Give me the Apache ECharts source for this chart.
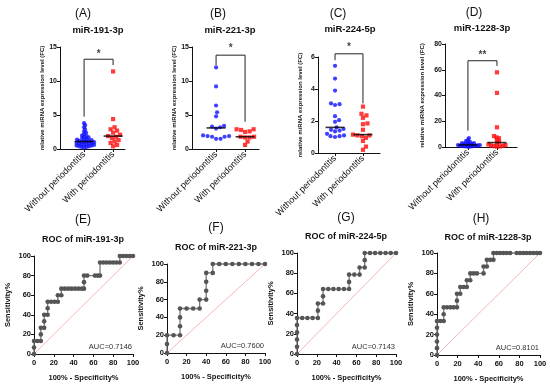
<!DOCTYPE html>
<html><head><meta charset="utf-8">
<script src="https://cdn.jsdelivr.net/npm/echarts@6/dist/echarts.min.js"></script>
<style>html,body{margin:0;padding:0;background:#fff}#c{width:550px;height:387px}</style>
</head><body><div id="c"></div>
<script>
// ---------- DATA ----------
const CATEGORIES = ['Without periodontitis', 'With periodontitis'];
const LETTERS_TOP = ['(A)', '(B)', '(C)', '(D)'];
const LETTERS_BOT = ['(E)', '(F)', '(G)', '(H)'];
const MIRNAS = ['miR-191-3p', 'miR-221-3p', 'miR-224-5p', 'miR-1228-3p'];
const ROC_TITLES = ['ROC of miR-191-3p', 'ROC of miR-221-3p', 'ROC of miR-224-5p', 'ROC of miR-1228-3p'];
const AUC_LABELS = ['AUC=0.7146', 'AUC=0.7600', 'AUC=0.7143', 'AUC=0.8101'];
const Y_NAME = 'relative miRNA expression level (FC)';
const ROC_X_NAME = '100% - Specificity%';
const ROC_Y_NAME = 'Sensitivity%';

const A_without = [3.8, 3.5, 3.2, 2.9, 2.6, 2.4, 2.2, 2.0, 1.9, 1.8, 1.7, 1.6, 1.5, 1.4, 1.4, 1.3, 1.2, 1.2, 1.1, 1.1, 1.0, 1.0, 0.9, 0.9, 0.8, 0.8, 0.7, 0.7, 0.6, 0.6, 0.5, 0.5, 0.4, 0.4, 0.3, 0.3, 0.2];
const A_with = [11.4, 4.4, 3.2, 2.9, 2.7, 2.4, 2.1, 1.9, 1.8, 1.6, 1.3, 1.1, 0.9, 0.6, 0.4];
const B_without = [12.0, 9.2, 6.4, 5.4, 4.8, 3.4, 3.3, 3.2, 3.0, 2.0, 1.9, 1.9, 1.8, 1.8, 1.5, 1.5];
const B_with = [2.9, 2.9, 2.8, 2.6, 2.5, 1.8, 1.8, 1.7, 1.7, 1.1, 0.6];
const C_without = [5.45, 4.65, 3.9, 3.1, 3.05, 3.0, 2.3, 2.05, 1.95, 1.6, 1.5, 1.45, 1.4, 1.35, 1.2, 1.1, 1.05, 1.05, 1.0];
const C_with = [2.9, 2.45, 2.35, 2.2, 1.85, 1.8, 1.45, 1.15, 1.1, 1.1, 1.05, 0.95, 0.75, 0.4, 0.2];
const D_without = [7.0, 5.5, 4.5, 4.0, 3.5, 3.0, 3.0, 2.5, 2.5, 2.0, 2.0, 1.8, 1.5, 1.5, 1.2, 1.0, 1.0, 0.8, 0.8, 0.6, 0.5, 0.4, 0.3, 0.2];
const D_with = [58, 42, 15.3, 8.5, 7.5, 6.8, 5.4, 4.1, 2.8, 2.0, 1.5, 1.2, 0.9, 0.7, 0.5, 0.3];

const Y_MAX = [15, 15, 6, 80];
const Y_INTERVAL = [5, 5, 2, 20];
// significance bracket: [left bottom, top, right bottom]
const BRACKETS = [[4.75, 13.2, 12.35], [12.35, 13.8, 4.0], [5.8, 6.2, 3.1], [12.7, 67, 63]];
const STARS = ['*', '*', '*', '**'];
const STAR_Y = [14.0, 14.8, 6.6, 71.5];

const ROC_E = [[0,0],[0,6.7],[0,13.3],[3.4,13.3],[6.9,13.3],[6.9,20],[6.9,26.7],[10.3,26.7],[10.3,33.3],[10.3,40],[13.8,40],[13.8,46.7],[13.8,53.3],[17.2,53.3],[20.7,53.3],[24.1,53.3],[24.1,60],[27.6,60],[27.6,66.7],[31,66.7],[34.5,66.7],[37.9,66.7],[41.4,66.7],[44.8,66.7],[48.3,66.7],[50.5,66.7],[50.5,73.3],[50.5,80],[53.8,80],[61.5,80],[64.4,80],[66.7,80],[66.7,93.3],[70,93.3],[73.3,93.3],[76.7,93.3],[80,93.3],[83.3,93.3],[86.7,93.3],[86.7,100],[90,100],[93.3,100],[96.7,100],[100,100]];
const ROC_F = [[0,0],[0,10],[0,20],[6.7,20],[13.3,20],[13.3,30],[13.3,40],[13.3,50],[20,50],[26.7,50],[33.3,50],[33.3,60],[40,60],[40,70],[40,80],[40,90],[46.7,90],[46.7,100],[53.3,100],[60,100],[66.7,100],[73.3,100],[80,100],[86.7,100],[93.3,100],[100,100]];
const ROC_G = [[0,0],[0,7.1],[0,14.3],[0,21.4],[0,28.6],[0,35.7],[5.3,35.7],[10.5,35.7],[15.8,35.7],[21.1,35.7],[21.1,42.9],[21.1,50],[26.3,50],[26.3,57.1],[26.3,64.3],[31.6,64.3],[36.8,64.3],[42.1,64.3],[47.4,64.3],[52.6,64.3],[52.6,71.4],[52.6,78.6],[57.9,78.6],[63.2,78.6],[63.2,85.7],[68.4,85.7],[68.4,92.9],[68.4,100],[73.7,100],[78.9,100],[84.2,100],[89.5,100],[94.7,100],[100,100]];
const ROC_H = [[0,0],[0,6.7],[0,13.3],[0,20],[0,26.7],[0,33.3],[3.2,33.3],[6.5,33.3],[6.5,40],[6.5,46.7],[9.7,46.7],[12.9,46.7],[16.1,46.7],[19.4,46.7],[19.4,53.3],[19.4,60],[22.6,60],[22.6,66.7],[25.8,66.7],[29,66.7],[29,73.3],[32.3,73.3],[32.3,80],[35.5,80],[38.7,80],[45.2,80],[45.2,86.7],[48.4,86.7],[48.4,93.3],[51.6,93.3],[54.8,93.3],[54.8,100],[58.1,100],[61.3,100],[64.5,100],[67.7,100],[71,100],[77.4,100],[80.6,100],[83.9,100],[87.1,100],[90.3,100],[93.5,100],[96.8,100],[100,100]];

// ---------- LAYOUT ----------
const TOP_GROUPS = [[A_without, A_with], [B_without, B_with], [C_without, C_with], [D_without, D_with]];
const ROCS = [ROC_E, ROC_F, ROC_G, ROC_H];
const GT = [
  {left: 60, top: 47, width: 65, height: 102},
  {left: 192, top: 47, width: 67, height: 102},
  {left: 318, top: 57, width: 62, height: 96},
  {left: 445, top: 44, width: 72, height: 103}
];
const XR = [[-0.83, 1.41], [-0.83, 1.48], [-0.61, 1.61], [-0.79, 1.69]];
const SWARM_D = [[2.2, 4.2], [4.2, 4.2], [4.2, 4.2], [2.0, 2.6]];
const GB = [
  {left: 34, top: 256, width: 99, height: 98},
  {left: 167, top: 264, width: 98, height: 89},
  {left: 297, top: 253, width: 99, height: 101},
  {left: 437, top: 253, width: 103, height: 102}
];
const LETTER_POS_TOP = [[83, 14], [218, 14], [338, 14], [474, 13]];
const TITLE_POS_TOP = [[98, 30], [230, 30], [350, 29], [482, 28]];
const LETTER_POS_BOT = [[83, 220], [216, 228], [346, 218], [481, 219]];
const TITLE_POS_BOT = [[83, 240], [216, 248], [346, 237], [488, 238]];
const FONT = '"Liberation Sans", Arial, sans-serif';

function median(a) {
  const s = a.slice().sort((x, y) => x - y);
  const n = s.length;
  return n % 2 ? s[(n - 1) / 2] : (s[n / 2 - 1] + s[n / 2]) / 2;
}
function swarm(vals, pxPerVal, d) {
  const order = vals.map((v, i) => i).sort((a, b) => vals[a] - vals[b]);
  const placed = [], off = [];
  for (const i of order) {
    const y = vals[i] * pxPerVal;
    let best = 0;
    for (let k = 0; k < 400; k++) {
      const dx = k === 0 ? 0 : (k % 2 ? 1 : -1) * Math.ceil(k / 2) * 0.5;
      if (placed.every(p => (p.x - dx) ** 2 + (p.y - y) ** 2 >= d * d)) { best = dx; break; }
    }
    placed.push({x: best, y}); off[i] = best;
  }
  return off;
}

const grid = [], xAxis = [], yAxis = [], series = [], graphic = [];
const tickLabel = {color: '#111', fontSize: 7, fontWeight: 'bold', fontFamily: FONT};
const axLine = {show: true, onZero: false, lineStyle: {color: '#111', width: 1}};

for (let i = 0; i < 4; i++) {
  const g = GT[i];
  grid.push({left: g.left, top: g.top, width: g.width, height: g.height});
  xAxis.push({
    type: 'value', gridIndex: i, min: XR[i][0], max: XR[i][1],
    axisLine: axLine, splitLine: {show: false},
    axisTick: {show: true, length: 3, customValues: [0, 1], lineStyle: {color: '#111'}},
    axisLabel: {show: true, customValues: [0, 1], formatter: v => CATEGORIES[Math.round(v)],
      rotate: 45, margin: 4, fontSize: 9, color: '#111', fontFamily: FONT}
  });
  yAxis.push({
    type: 'value', gridIndex: i, min: 0, max: Y_MAX[i], interval: Y_INTERVAL[i],
    axisLine: axLine, splitLine: {show: false},
    axisTick: {show: true, length: 3, lineStyle: {color: '#111'}},
    axisLabel: Object.assign({margin: 3}, tickLabel),
    name: Y_NAME, nameLocation: 'middle', nameRotate: 90, nameGap: i === 3 ? 20 : 15,
    nameTextStyle: {fontSize: 6, fontWeight: 'bold', color: '#111', fontFamily: FONT}
  });
  const ppv = g.height / Y_MAX[i];
  const colors = ['#1010ff', '#ff0a0a'];
  const symbols = ['circle', 'rect'];
  TOP_GROUPS[i].forEach((vals, c) => {
    const off = swarm(vals, ppv, SWARM_D[i][c]);
    series.push({
      type: 'scatter', xAxisIndex: i, yAxisIndex: i, symbol: symbols[c], symbolSize: 4.2,
      itemStyle: {color: colors[c]}, silent: true, z: 3,
      data: vals.map((v, k) => ({value: [c, v], symbolOffset: [off[k], 0]}))
    });
  });
  series.push({
    type: 'scatter', xAxisIndex: i, yAxisIndex: i, symbol: 'rect', symbolSize: [19, 1.6],
    itemStyle: {color: '#000'}, z: 5, silent: true,
    data: TOP_GROUPS[i].map((vals, c) => [c, median(vals)])
  });
  const b = BRACKETS[i];
  series.push({
    type: 'line', xAxisIndex: i, yAxisIndex: i, symbol: 'none', clip: false, silent: true,
    lineStyle: {color: '#222', width: 1},
    data: [[0, b[0]], [0, b[1]], [1, b[1]], [1, b[2]]]
  });
  series.push({
    type: 'scatter', xAxisIndex: i, yAxisIndex: i, symbolSize: 1, clip: false, silent: true,
    itemStyle: {color: 'rgba(0,0,0,0)'},
    label: {show: true, position: 'inside', formatter: STARS[i], fontSize: 10, fontWeight: 'bold', color: '#111', fontFamily: FONT},
    data: [[0.5, STAR_Y[i]]]
  });
  graphic.push({type: 'text', x: LETTER_POS_TOP[i][0], y: LETTER_POS_TOP[i][1],
    style: {text: LETTERS_TOP[i], font: '12px ' + FONT, fill: '#111', textAlign: 'center', textVerticalAlign: 'middle'}});
  graphic.push({type: 'text', x: TITLE_POS_TOP[i][0], y: TITLE_POS_TOP[i][1],
    style: {text: MIRNAS[i], font: 'bold 9.5px ' + FONT, fill: '#111', textAlign: 'center', textVerticalAlign: 'middle'}});
}

for (let i = 0; i < 4; i++) {
  const g = GB[i];
  const gi = i + 4;
  grid.push({left: g.left, top: g.top, width: g.width, height: g.height});
  xAxis.push({
    type: 'value', gridIndex: gi, min: 0, max: 100, interval: 20,
    axisLine: axLine, splitLine: {show: false},
    axisTick: {show: true, length: 3, lineStyle: {color: '#111'}},
    axisLabel: Object.assign({margin: 5}, tickLabel, {fontSize: 7.5}),
    name: ROC_X_NAME, nameLocation: 'middle', nameGap: 20,
    nameTextStyle: {fontSize: 7.5, fontWeight: 'bold', color: '#111', fontFamily: FONT}
  });
  yAxis.push({
    type: 'value', gridIndex: gi, min: 0, max: 100, interval: 20,
    axisLine: axLine, splitLine: {show: false},
    axisTick: {show: true, length: 3, lineStyle: {color: '#111'}},
    axisLabel: Object.assign({margin: 3}, tickLabel, {fontSize: 7.5}),
    name: ROC_Y_NAME, nameLocation: 'middle', nameRotate: 90, nameGap: 22,
    nameTextStyle: {fontSize: 7.5, fontWeight: 'bold', color: '#111', fontFamily: FONT}
  });
  series.push({
    type: 'line', xAxisIndex: gi, yAxisIndex: gi, symbol: 'none', silent: true,
    lineStyle: {color: '#f4a3a3', width: 0.8}, data: [[0, 0], [100, 100]]
  });
  series.push({
    type: 'line', xAxisIndex: gi, yAxisIndex: gi, symbol: 'circle', symbolSize: 4.6, showAllSymbol: true,
    clip: false, silent: true,
    lineStyle: {color: '#7a7a7a', width: 1.3}, itemStyle: {color: '#555'},
    data: ROCS[i]
  });
  graphic.push({type: 'text', x: g.left + g.width - 1, y: g.top + g.height - 7,
    style: {text: AUC_LABELS[i], font: '7.5px ' + FONT, fill: '#333', textAlign: 'right', textVerticalAlign: 'middle'}});
  graphic.push({type: 'text', x: LETTER_POS_BOT[i][0], y: LETTER_POS_BOT[i][1],
    style: {text: LETTERS_BOT[i], font: '12px ' + FONT, fill: '#111', textAlign: 'center', textVerticalAlign: 'middle'}});
  graphic.push({type: 'text', x: TITLE_POS_BOT[i][0], y: TITLE_POS_BOT[i][1],
    style: {text: ROC_TITLES[i], font: 'bold 9px ' + FONT, fill: '#111', textAlign: 'center', textVerticalAlign: 'middle'}});
}

const chart = echarts.init(document.getElementById('c'), null, {renderer: 'canvas'});
chart.setOption({animation: false, backgroundColor: '#fff', grid, xAxis, yAxis, series, graphic});
</script>
</body></html>
